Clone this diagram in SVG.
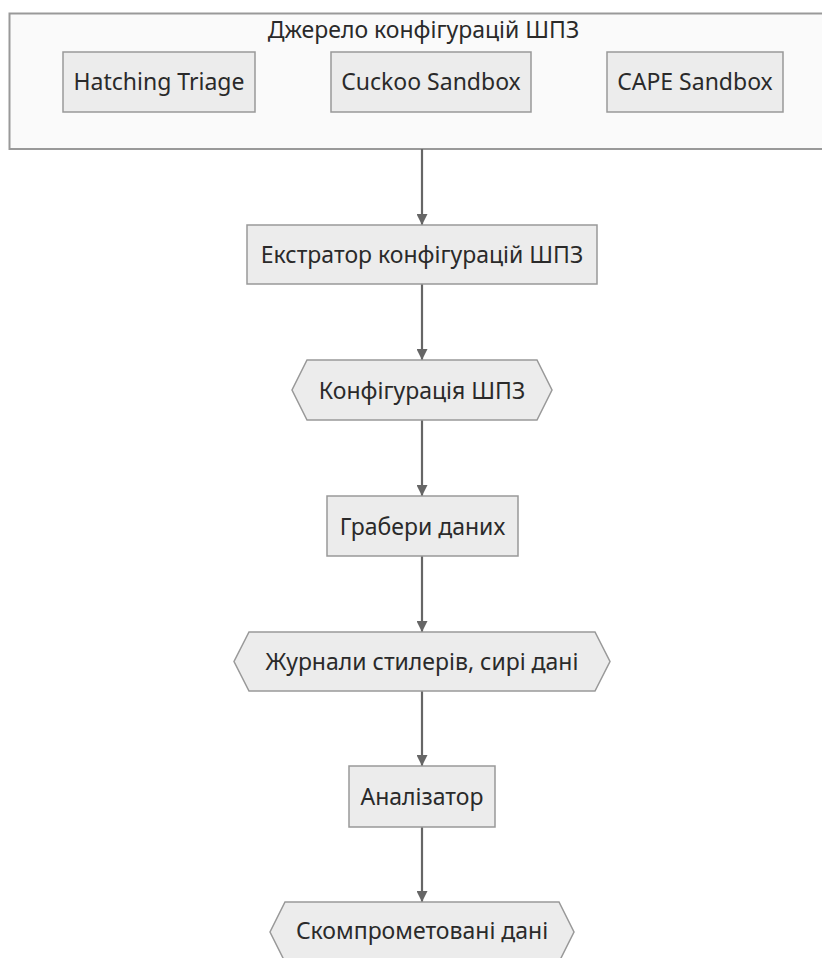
<svg xmlns="http://www.w3.org/2000/svg" width="822" height="958" viewBox="0 0 822 958">
<defs>
<marker id="arr" viewBox="0 0 10 10" refX="10" refY="5" markerWidth="5" markerHeight="5" orient="auto" markerUnits="strokeWidth">
<path d="M0,0 L10,5 L0,10 z" fill="#666"/>
</marker>
<style>
.node{fill:#ececec;stroke:#999;stroke-width:1.5}
.cluster{fill:#fafafa;stroke:#999;stroke-width:2}
.lbl{font-family:"Noto Sans","Open Sans",sans-serif;font-size:23px;fill:#2a2a2a;text-anchor:middle}
.edge{stroke:#666;stroke-width:2.2;fill:none}
</style>
</defs>
<rect width="822" height="958" fill="#ffffff"/>
<g id="cluster-source">
<rect class="cluster" x="9.5" y="13.5" width="830" height="135.5"/>
<text class="lbl" x="423.5" y="38">Джерело конфігурацій ШПЗ</text>
</g>
<g id="hatching">
<rect class="node" x="63" y="52" width="192" height="60"/>
<text class="lbl" x="159" y="90">Hatching Triage</text>
</g>
<g id="cuckoo">
<rect class="node" x="331" y="52" width="200" height="60"/>
<text class="lbl" x="431" y="90">Cuckoo Sandbox</text>
</g>
<g id="cape">
<rect class="node" x="607" y="52" width="176" height="60"/>
<text class="lbl" x="695" y="90">CAPE Sandbox</text>
</g>
<g id="connectors">
<line class="edge" x1="422" y1="149" x2="422" y2="225" marker-end="url(#arr)"/>
<line class="edge" x1="422" y1="284" x2="422" y2="360" marker-end="url(#arr)"/>
<line class="edge" x1="422" y1="420" x2="422" y2="496" marker-end="url(#arr)"/>
<line class="edge" x1="422" y1="556" x2="422" y2="632" marker-end="url(#arr)"/>
<line class="edge" x1="422" y1="691" x2="422" y2="766" marker-end="url(#arr)"/>
<line class="edge" x1="422" y1="827" x2="422" y2="902" marker-end="url(#arr)"/>
</g>
<g id="extractor">
<rect class="node" x="247" y="225" width="350" height="59"/>
<text class="lbl" x="422" y="263">Екстратор конфігурацій ШПЗ</text>
</g>
<g id="config">
<polygon class="node" points="307,360 537,360 552,390 537,420 307,420 292,390"/>
<text class="lbl" x="422" y="398.5">Конфігурація ШПЗ</text>
</g>
<g id="grabbers">
<rect class="node" x="327" y="496" width="191" height="60"/>
<text class="lbl" x="422.5" y="534.5">Грабери даних</text>
</g>
<g id="logs">
<polygon class="node" points="249,632 595,632 610,661.5 595,691 249,691 234,661.5"/>
<text class="lbl" x="422" y="670">Журнали стилерів, сирі дані</text>
</g>
<g id="analyzer">
<rect class="node" x="349" y="766" width="146" height="61"/>
<text class="lbl" x="422" y="804.5">Аналізатор</text>
</g>
<g id="compromised">
<polygon class="node" points="285,902 559,902 574,932 559,962 285,962 270,932"/>
<text class="lbl" x="422" y="938.5">Скомпрометовані дані</text>
</g>
</svg>
